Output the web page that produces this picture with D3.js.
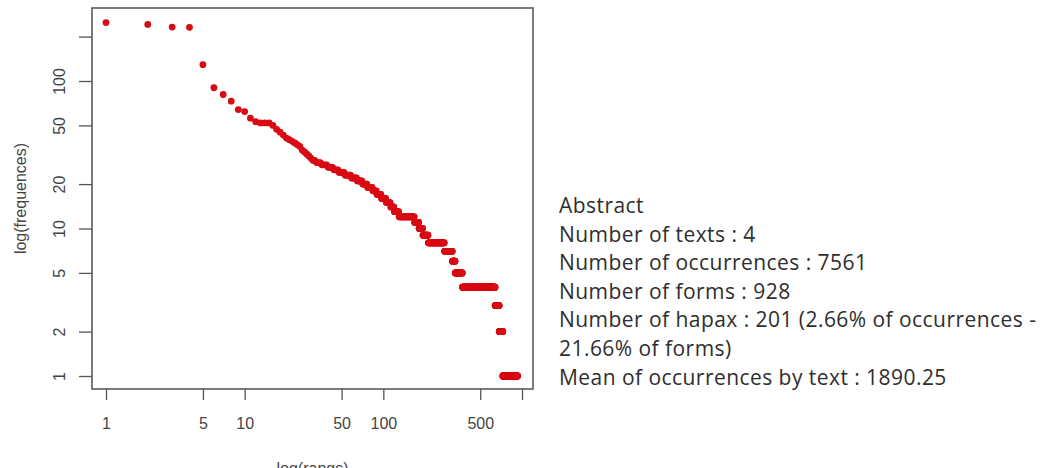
<!DOCTYPE html>
<html>
<head>
<meta charset="utf-8">
<script src="https://cdn.jsdelivr.net/npm/d3@7"></script>
<style>
  body { margin: 0; background: #fff; }
  svg { display: block; }
</style>
</head>
<body>
<svg id="chart" width="1051" height="468"></svg>
<script>
// frequencies of the most frequent forms, rank 1..39
var topFreqs = [249, 242, 232, 231, 129, 90, 81, 73, 64, 62,
                56, 53, 52, 52, 52, 50, 47, 45, 43, 41,
                40, 39, 38, 37, 36, 34, 33, 32, 31, 30,
                29, 29, 28, 28, 28, 27, 27, 27, 27];
// the rest as a frequency spectrum: frequency -> number of forms
var specFreqs  = [26, 25, 24, 23, 22, 21, 20, 19, 18, 17, 16, 15, 14, 13, 12, 11, 10, 9, 8, 7, 6, 5, 4, 3, 2, 1];
var specCounts = [ 4,  4,  5,  6,  6,  6,  6,  7,  6,  7,  8,  8,  7, 10, 38, 13, 12, 18, 65, 39, 15, 42, 268, 45, 43, 201];

var xTicks = [1, 5, 10, 50, 100, 500, 1000];
var yTicks = [1, 2, 5, 10, 20, 50, 100, 200];

var summaryLines = [
    "Abstract",
    "Number of texts : 4",
    "Number of occurrences : 7561",
    "Number of forms : 928",
    "Number of hapax : 201 (2.66% of occurrences -",
    "21.66% of forms)",
    "Mean of occurrences by text : 1890.25"
];

// build rank / frequency pairs
var points = [];
topFreqs.forEach(function(f) {
    points.push({ rank: points.length + 1, freq: f });
});
specFreqs.forEach(function(f, i) {
    for (var k = 0; k < specCounts[i]; k++) {
        points.push({ rank: points.length + 1, freq: f });
    }
});

var svg = d3.select("#chart");
var box = { left: 92, top: 8, right: 533, bottom: 389 };

var x = d3.scaleLog().domain([1, 1000]).range([106, 522]);
var y = d3.scaleLog().domain([1, 100]).range([376, 81]);

svg.append("rect")
    .attr("width", 1051).attr("height", 468)
    .attr("fill", "#fff");

// points
svg.append("g")
    .selectAll("circle")
    .data(points)
    .enter().append("circle")
    .attr("cx", function(d) { return x(d.rank); })
    .attr("cy", function(d) { return y(d.freq); })
    .attr("r", 3.4)
    .attr("fill", "#d80a14");

// axes
var xAxis = svg.append("g")
    .attr("transform", "translate(0," + box.bottom + ")")
    .call(d3.axisBottom(x)
        .tickValues(xTicks)
        .tickFormat(function(d) { return d === 1000 ? "" : d; })
        .tickSize(11)
        .tickSizeOuter(0));

var yAxis = svg.append("g")
    .attr("transform", "translate(" + box.left + ",0)")
    .call(d3.axisLeft(y)
        .tickValues(yTicks)
        .tickFormat(function(d) { return d === 200 ? "" : d; })
        .tickSize(13)
        .tickSizeOuter(0));

[xAxis, yAxis].forEach(function(a) {
    a.select(".domain").remove();
    a.selectAll(".tick line").attr("stroke", "#555").attr("stroke-width", 1.3);
    a.selectAll(".tick text")
        .attr("fill", "#444")
        .style("font-family", "'Liberation Sans', Arial, sans-serif")
        .style("font-size", "16px");
});

xAxis.selectAll(".tick text")
    .attr("y", 40)
    .attr("dy", 0);

yAxis.selectAll(".tick text")
    .attr("transform", "rotate(-90)")
    .attr("text-anchor", "middle")
    .attr("x", 0)
    .attr("y", -27)
    .attr("dy", 0);

// frame
svg.append("rect")
    .attr("x", box.left).attr("y", box.top)
    .attr("width", box.right - box.left)
    .attr("height", box.bottom - box.top)
    .attr("fill", "none")
    .attr("stroke", "#5a5a5a")
    .attr("stroke-width", 1.6);

// axis titles
svg.append("text")
    .attr("x", (box.left + box.right) / 2)
    .attr("y", 474)
    .attr("text-anchor", "middle")
    .attr("fill", "#444")
    .style("font-family", "'Liberation Sans', Arial, sans-serif")
    .style("font-size", "16px")
    .text("log(rangs)");

svg.append("text")
    .attr("transform", "translate(26," + (box.top + box.bottom) / 2 + ") rotate(-90)")
    .attr("text-anchor", "middle")
    .attr("fill", "#444")
    .style("font-family", "'Liberation Sans', Arial, sans-serif")
    .style("font-size", "16px")
    .text("log(frequences)");

// summary block
svg.append("g")
    .selectAll("text")
    .data(summaryLines)
    .enter().append("text")
    .attr("x", 559)
    .attr("y", function(d, i) { return 213 + i * 28.6; })
    .attr("fill", "#2e2e2e")
    .style("font-family", "'Open Sans', 'Noto Sans', sans-serif")
    .style("font-size", "21px")
    .style("letter-spacing", "0.45px")
    .text(function(d) { return d; });
</script>
</body>
</html>
